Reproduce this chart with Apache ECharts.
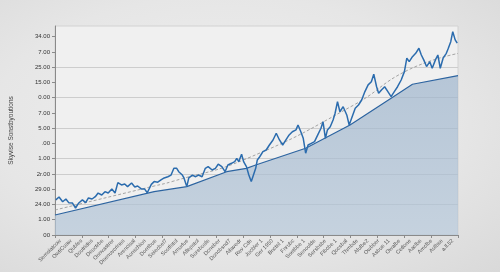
<!DOCTYPE html>
<html>
<head>
<meta charset="utf-8">
<title>chart</title>
<script src="https://cdn.jsdelivr.net/npm/echarts@6/dist/echarts.min.js"></script>
<style>
    html, body {
        margin: 0;
        padding: 0;
        background: radial-gradient(ellipse at 45% 45%, #f0f0f0 0%, #e6e6e6 60%, #d9d9d9 100%);
    }
    #main-line-chart {
        width: 500px;
        height: 272px;
    }
</style>
</head>
<body>
<div id="main-line-chart"></div>
<script>
// y轴刻度文字 (从下到上)
var yTickLabels = ["00", "1.00", "24.00", "29.00", "2r.00", "1.00", ".00", "5.00", "7.00", "0.00", "15.00", "25.00", "7.00", "34.00"];

// x轴类目
var xCategories = ["Semsiatcow", "OwtiCuaw", "Qubles", "Doutrides", "Deuctrbe", "Onnvastrer", "Deenuvcrines",
    "Arencisal", "Aonschion", "Dorrtbue", "Seiecbel7", "Soutlstol", "Amurlue", "Allepstol", "Sorebosle",
    "Dcneber", "Doncbsnd7", "Ailavedr", "Rev Cde", "Jucbler 1", "Ger 1950", "Bnctel 1", "Fnrubc",
    "Snetbbe 1", "Senoulde", "Sersbsbe", "Fibcbe 1", "Qocsbal", "Thmbde", "Alulbe2", "Owbber",
    "Asbue 11", "Owalbe", "Cetlone", "Aaclbe", "Amclbe", "Aulbse", "a.ll.52"];

// 行情折线 [时间%, 数值]
var priceData = [
    [0.2, 2.30], [1.0, 2.49], [1.9, 2.18], [2.7, 2.36], [3.4, 2.12], [4.3, 2.10], [5.1, 1.77], [5.9, 2.10],
    [6.8, 2.30], [7.6, 2.12], [8.3, 2.43], [9.2, 2.36], [10.0, 2.51], [10.7, 2.75], [11.6, 2.62], [12.4, 2.84],
    [13.2, 2.75], [14.1, 3.02], [14.9, 2.75], [15.6, 3.43], [16.5, 3.28], [17.3, 3.34], [18.0, 3.17], [19.0, 3.41],
    [19.8, 3.15], [20.5, 3.21], [21.4, 3.02], [22.2, 3.02], [22.9, 2.77], [23.9, 3.32], [24.6, 3.50], [25.5, 3.46],
    [26.3, 3.61], [27.1, 3.74], [28.0, 3.82], [28.8, 3.93], [29.5, 4.37], [30.2, 4.37], [30.7, 4.15], [31.6, 3.93],
    [32.0, 3.74], [32.7, 3.17], [33.2, 3.74], [34.1, 3.93], [34.9, 3.82], [35.6, 3.93], [36.5, 3.82], [37.3, 4.37],
    [38.0, 4.48], [39.0, 4.26], [39.8, 4.37], [40.5, 4.64], [41.4, 4.48], [42.2, 4.15], [42.9, 4.59], [43.8, 4.70],
    [44.6, 4.81], [45.1, 5.03], [45.6, 4.81], [46.3, 5.29], [46.8, 4.81], [47.5, 4.48], [48.1, 3.93], [48.7, 3.50],
    [49.1, 3.82], [49.8, 4.37], [50.2, 4.92], [50.8, 5.13], [51.6, 5.46], [52.4, 5.57], [53.2, 5.90], [54.1, 6.23],
    [54.9, 6.67], [55.7, 6.23], [56.5, 5.90], [57.3, 6.23], [58.1, 6.56], [58.9, 6.77], [59.8, 6.89], [60.3, 7.21],
    [61.0, 6.77], [61.6, 6.34], [62.2, 5.36], [62.8, 5.90], [63.6, 6.01], [64.4, 6.12], [65.2, 6.56], [66.0, 7.00],
    [66.5, 7.43], [67.1, 6.34], [67.6, 6.89], [68.3, 7.10], [69.0, 7.54], [69.5, 7.98], [70.1, 8.74], [70.7, 8.08],
    [71.5, 8.41], [72.4, 7.87], [73.0, 7.21], [73.6, 7.65], [74.5, 8.31], [75.3, 8.52], [76.1, 8.85], [76.9, 9.40],
    [77.7, 9.84], [78.5, 10.05], [79.1, 10.54], [79.8, 9.72], [80.3, 9.29], [81.0, 9.51], [81.8, 9.72], [82.6, 9.40],
    [83.4, 9.07], [84.2, 9.40], [85.0, 9.72], [85.9, 10.16], [86.7, 10.71], [87.3, 11.59], [87.9, 11.36], [88.7, 11.69],
    [89.5, 11.91], [90.3, 12.24], [90.9, 11.80], [91.5, 11.48], [92.2, 11.04], [93.0, 11.36], [93.6, 10.93], [94.4, 11.48],
    [95.0, 11.80], [95.6, 10.93], [96.3, 11.59], [97.1, 11.91], [97.6, 12.24], [98.2, 12.67], [98.7, 13.33], [99.3, 12.79],
    [99.8, 12.57]
];

// 趋势虚线
var trendData = [[0, 1.64], [24.6, 3.21], [29, 3.5], [47.5, 5.0], [74, 8.5], [87.5, 10.8], [100, 11.9]];

// 底部面积
var baseData = [[0, 1.31], [24.6, 2.84], [32.7, 3.17], [42.6, 4.15], [47.5, 4.37], [49.8, 4.59],
    [62.2, 5.69], [73.2, 7.21], [83.4, 8.96], [88.7, 9.88], [100, 10.45]];

// 网格线只画在部分刻度上
var gridLineAt = [2, 4, 5, 7, 9, 11];

function splitColors() {
    var arr = [];
    for (var i = 0; i <= yTickLabels.length; i++) {
        arr.push(gridLineAt.indexOf(i) > -1 ? "#cdcdcd" : "rgba(0,0,0,0)");
    }
    return arr;
}

var fontName = "Liberation Sans, Arial, sans-serif";

var chart = echarts.init(document.getElementById("main-line-chart"));
chart.setOption({
    backgroundColor: "transparent",
    animation: false,
    grid: {
        left: 48,
        right: 42,
        top: 26,
        bottom: 37,
        show: true,
        backgroundColor: "#f0f0f0",
        borderColor: "#d2d2d2",
        borderWidth: 1
    },
    xAxis: [
        {
            type: "category",
            data: xCategories,
            boundaryGap: true,
            axisLine: {show: false},
            axisTick: {show: false},
            axisLabel: {
                interval: 0,
                rotate: 45,
                margin: 5,
                fontSize: 5.5,
                color: "#555",
                fontFamily: fontName
            }
        },
        {
            type: "value",
            min: 0,
            max: 100,
            interval: 100 / 15,
            position: "bottom",
            axisLine: {show: true, lineStyle: {color: "#8a8a8a", width: 1}},
            axisTick: {show: true, length: 3, lineStyle: {color: "#8a8a8a"}},
            axisLabel: {show: false},
            splitLine: {show: false}
        }
    ],
    yAxis: {
        type: "value",
        min: 0,
        max: 13.7,
        interval: 1,
        name: "Skyvise Sonstbyoutions",
        nameLocation: "middle",
        nameGap: 40,
        nameTextStyle: {fontSize: 6.5, color: "#444", fontFamily: fontName},
        axisLine: {show: true, lineStyle: {color: "#8a8a8a", width: 1}},
        axisTick: {show: true, length: 3, lineStyle: {color: "#8a8a8a"}},
        axisLabel: {
            fontSize: 6,
            color: "#333",
            margin: 5,
            fontFamily: fontName,
            showMaxLabel: false,
            formatter: function (v) {
                return yTickLabels[v] || "";
            }
        },
        splitLine: {show: true, lineStyle: {color: splitColors(), width: 1}}
    },
    series: [
        {
            name: "base",
            type: "line",
            xAxisIndex: 1,
            data: baseData,
            symbol: "none",
            z: 1,
            lineStyle: {color: "#2d64a0", width: 1.2},
            areaStyle: {
                color: new echarts.graphic.LinearGradient(0, 0, 0, 1, [
                    {offset: 0, color: "#9db4cc"},
                    {offset: 1, color: "#b3c5d7"}
                ])
            }
        },
        {
            name: "trend",
            type: "line",
            xAxisIndex: 1,
            data: trendData,
            smooth: true,
            symbol: "none",
            z: 2,
            lineStyle: {color: "#9a9a9a", width: 0.9, type: [3, 2]}
        },
        {
            name: "price",
            type: "line",
            xAxisIndex: 1,
            data: priceData,
            symbol: "none",
            z: 3,
            lineStyle: {color: "#2b6cae", width: 1.5}
        }
    ]
});
</script>
</body>
</html>
